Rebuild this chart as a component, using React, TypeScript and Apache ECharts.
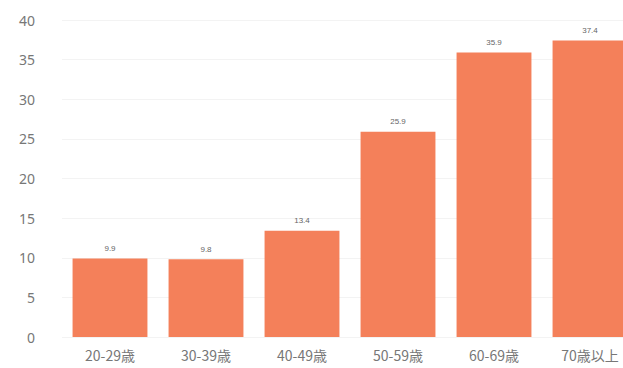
import React, { useEffect, useRef } from "react";
import * as echarts from "echarts";

const categories = ["20-29歳", "30-39歳", "40-49歳", "50-59歳", "60-69歳", "70歳以上"];
const values = [9.9, 9.8, 13.4, 25.9, 35.9, 37.4];
const yTicks = [0, 5, 10, 15, 20, 25, 30, 35, 40];

export default function App() {
  const ref = useRef<HTMLDivElement>(null);
  useEffect(() => {
    const chart = echarts.init(ref.current!, null, { renderer: "svg" });
    chart.setOption({
      animation: false,
      grid: { left: 62, right: 0, top: 20, bottom: 31 },
      xAxis: {
        type: "category",
        data: categories,
        axisLine: { show: false },
        axisTick: { show: false },
        axisLabel: { color: "#777", fontSize: 14, margin: 11, fontFamily: "Noto Sans CJK JP" },
      },
      yAxis: {
        type: "value",
        min: yTicks[0],
        max: yTicks[yTicks.length - 1],
        interval: 5,
        axisLabel: { color: "#777", fontSize: 14, margin: 27, fontFamily: "Noto Sans" },
        splitLine: { lineStyle: { color: "#f3f3f3" } },
      },
      series: [
        {
          type: "bar",
          data: values,
          barCategoryGap: "22%",
          itemStyle: { color: "#F4805A" },
          label: {
            show: true,
            position: "top",
            color: "#666",
            fontSize: 8,
            distance: 6,
            formatter: (p: any) => p.value.toFixed(1),
          },
        },
      ],
    });
    return () => chart.dispose();
  }, []);
  return (
    <div style={{ position: "fixed", left: 0, top: 0, width: 623, height: 368, overflow: "hidden", background: "#fff" }}>
      <div ref={ref} style={{ width: 638, height: 368 }} />
    </div>
  );
}
